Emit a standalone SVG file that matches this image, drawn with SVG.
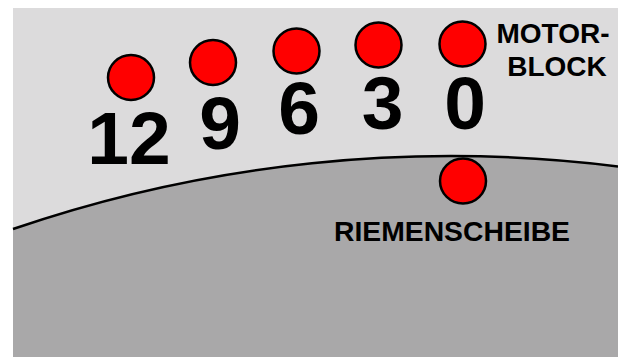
<svg xmlns="http://www.w3.org/2000/svg" width="618" height="357" viewBox="0 0 618 357">
<style>
.dot{fill:#ff0000;stroke:#000;stroke-width:2.5}
.num{font-family:"Liberation Sans",Arial,sans-serif;font-weight:bold;font-size:75px;fill:#000;text-anchor:middle}
.lbl{font-family:"Liberation Sans",Arial,sans-serif;font-weight:bold;font-size:28px;fill:#000;text-anchor:middle}
</style>
<rect x="0" y="0" width="618" height="357" fill="#ffffff"/>
<rect x="13" y="8" width="605" height="349" fill="#dcdbdc"/>
<g id="pulley">
<path d="M13 229 A1350 1350 0 0 1 618 166.5 L618 357 L13 357 Z" fill="#a9a8a9"/>
<path d="M13 229 A1350 1350 0 0 1 618 166.5" fill="none" stroke="#000" stroke-width="2.5"/>
</g>
<g id="mark12"><ellipse class="dot" cx="131" cy="77.5" rx="23" ry="22.5"/><text class="num" x="129" y="164">12</text></g>
<g id="mark9"><ellipse class="dot" cx="213" cy="62.5" rx="23" ry="22.5"/><text class="num" x="220" y="149">9</text></g>
<g id="mark6"><ellipse class="dot" cx="296.5" cy="51" rx="23" ry="22.5"/><text class="num" x="299" y="134">6</text></g>
<g id="mark3"><ellipse class="dot" cx="378.5" cy="45" rx="23" ry="22.5"/><text class="num" x="382.5" y="129">3</text></g>
<g id="mark0"><ellipse class="dot" cx="462.5" cy="44" rx="23" ry="22.5"/><text class="num" x="465" y="128.5">0</text></g>
<g id="motorblock"><text class="lbl" x="553" y="43">MOTOR-</text><text class="lbl" x="557" y="76">BLOCK</text></g>
<g id="riemenscheibe"><ellipse class="dot" cx="463" cy="181" rx="23" ry="22.5"/><text class="lbl" x="452" y="241" textLength="236" lengthAdjust="spacingAndGlyphs">RIEMENSCHEIBE</text></g>
<g id="connectors"/>
</svg>
